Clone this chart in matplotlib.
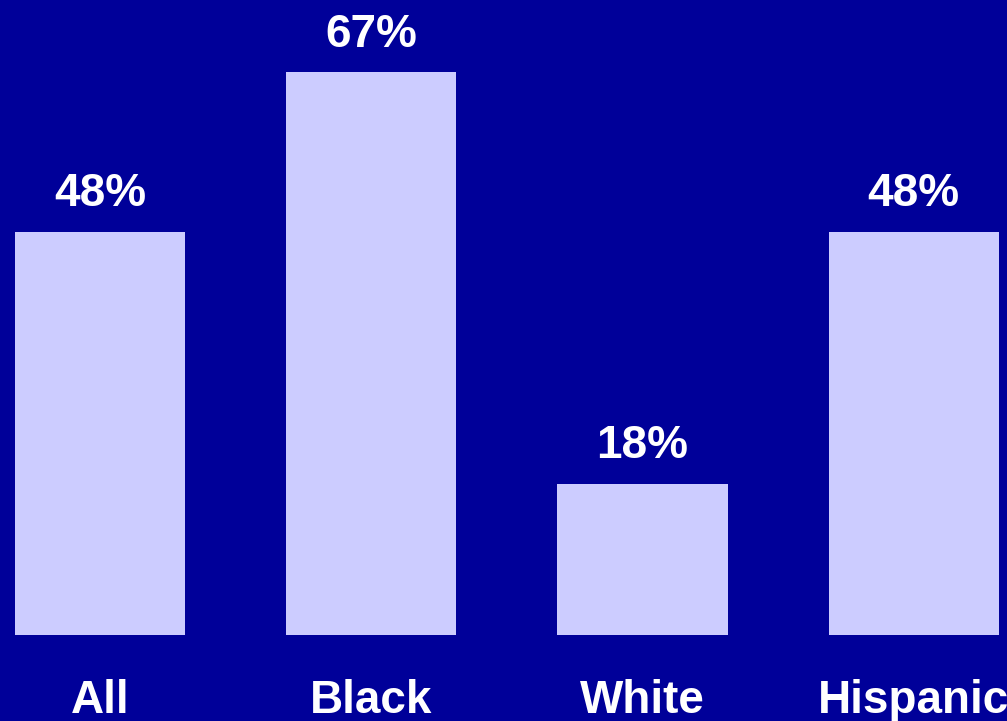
import matplotlib
matplotlib.use("Agg")
import matplotlib.pyplot as plt

categories = ["All", "Black", "White", "Hispanic"]
values = [48, 67, 18, 48]
value_labels = ["48%", "67%", "18%", "48%"]

bg = "#000099"
bar_color = "#CCCCFF"

plt.rcParams['font.family'] = ['Liberation Sans', 'DejaVu Sans']

fig = plt.figure(figsize=(10.07, 7.21), dpi=100, facecolor=bg)
ax = fig.add_axes([0, 86 / 721, 1, 635 / 721])
ax.set_facecolor(bg)

x = list(range(len(categories)))
ax.bar(x, values, width=0.627, color=bar_color, edgecolor="none")
ax.set_xlim(-0.369, 3.344)
ax.set_ylim(0, 75.6)
ax.axis("off")

for xi, v, lab in zip(x, values, value_labels):
    ax.annotate(lab, (xi, v), xytext=(0, 18.5), textcoords="offset points",
                ha="center", va="baseline", color="white", fontsize=33,
                fontweight="bold")

for xi, cat in zip(x, categories):
    ax.annotate(cat, (xi, 0), xycoords=("data", "axes fraction"),
                xytext=(0, -56), textcoords="offset points",
                ha="center", va="baseline", color="white", fontsize=33,
                fontweight="bold", annotation_clip=False)

fig.savefig("out.png", dpi=100, facecolor=bg)
